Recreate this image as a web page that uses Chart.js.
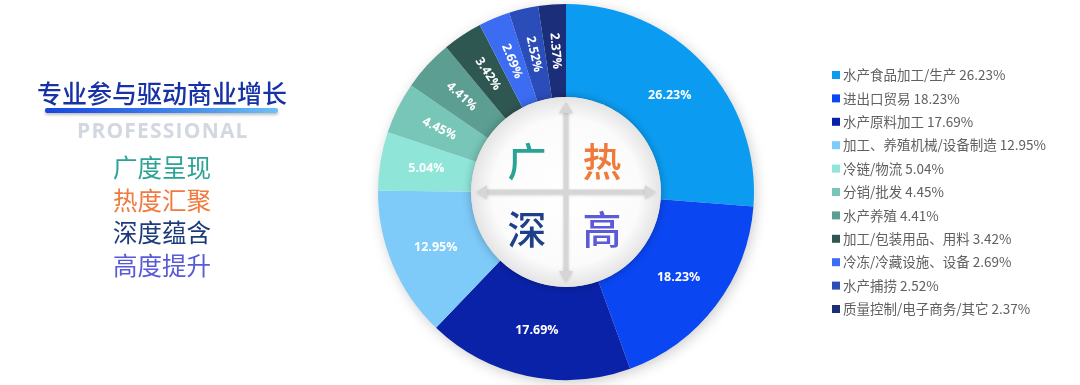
<!DOCTYPE html>
<html>
<head>
<meta charset="utf-8">
<script src="https://cdn.jsdelivr.net/npm/chart.js@4.4.1/dist/chart.umd.min.js"></script>
<style>
  html, body { margin: 0; padding: 0; background: #ffffff; }
  #wrap { position: relative; width: 1080px; height: 385px; overflow: hidden; }
  #c { position: absolute; left: 0; top: 0; }
  .t { position: absolute; white-space: nowrap; font-family: "Noto Sans CJK SC", sans-serif; }
  #title { left: 37px; top: 76px; font-size: 25px; line-height: 32px; color: #1632a6; font-weight: 500; letter-spacing: 0px; }
  #bar { position: absolute; left: 45px; top: 108px; width: 233px; height: 5px; border-radius: 2px;
         background: linear-gradient(90deg, #1745e0 0%, #3a7eea 50%, #6cc2f4 100%);
         box-shadow: 0 2px 3px rgba(0,0,0,0.25); }
  #pro { left: 77px; top: 117px; font-family: "Open Sans", sans-serif; font-weight: 700; font-size: 21px; line-height: 26px; color: #d3d7e0; letter-spacing: 1.2px; }
  .kw { font-size: 24.5px; line-height: 30px; left: 113px; }
</style>
</head>
<body>
<div id="wrap">
  <canvas id="c" width="1080" height="385"></canvas>
  <div class="t" id="title">专业参与驱动商业增长</div>
  <div id="bar"></div>
  <div class="t" id="pro">PROFESSIONAL</div>
  <div class="t kw" style="top:152px;color:#2aa394;">广度呈现</div>
  <div class="t kw" style="top:185px;color:#f07a40;">热度汇聚</div>
  <div class="t kw" style="top:217px;color:#1d3b7c;">深度蕴含</div>
  <div class="t kw" style="top:250px;color:#5a5ad8;">高度提升</div>
</div>
<script>
const categories = ["水产食品加工/生产", "进出口贸易", "水产原料加工", "加工、养殖机械/设备制造", "冷链/物流", "分销/批发", "水产养殖", "加工/包装用品、用料", "冷冻/冷藏设施、设备", "水产捕捞", "质量控制/电子商务/其它"];
const shares = [26.23, 18.23, 17.69, 12.95, 5.04, 4.45, 4.41, 3.42, 2.69, 2.52, 2.37];
const colors = ["#0b9cf2", "#0a46f2", "#0a22a8", "#7ecaf8", "#8fe6d8", "#78c6b8", "#5c9e92", "#2f5752", "#3b6cf2", "#2b4dba", "#1b2e7a"];
const centerChars = ["广", "热", "深", "高"];
const centerColors = ["#2aa394", "#f07a3a", "#1f3f8a", "#5b5bd8"];

const fmt = v => v.toFixed(2) + "%";

const shadowPlugin = {
  id: "ringShadow",
  beforeDatasetsDraw(chart) {
    const arc = chart.getDatasetMeta(0).data[0];
    if (!arc) return;
    const ctx = chart.ctx;
    ctx.save();
    ctx.shadowColor = "rgba(0,0,0,0.22)";
    ctx.shadowBlur = 14;
    ctx.shadowOffsetX = 2;
    ctx.shadowOffsetY = 3;
    ctx.fillStyle = "#ffffff";
    ctx.beginPath();
    ctx.arc(arc.x, arc.y, arc.outerRadius - 1, 0, Math.PI * 2);
    ctx.fill();
    ctx.restore();
  }
};

const labelPlugin = {
  id: "sliceLabels",
  afterDatasetsDraw(chart) {
    const ctx = chart.ctx;
    const meta = chart.getDatasetMeta(0);
    meta.data.forEach((arc, i) => {
      const p = arc.getProps(["x", "y", "startAngle", "endAngle", "innerRadius", "outerRadius"], true);
      const mid = (p.startAngle + p.endAngle) / 2;
      const r = (p.innerRadius + p.outerRadius) / 2;
      const x = p.x + Math.cos(mid) * r;
      const y = p.y + Math.sin(mid) * r;
      ctx.save();
      ctx.translate(x, y);
      if (shares[i] < 5) ctx.rotate(mid + Math.PI);
      ctx.font = "bold 12.5px 'Open Sans', sans-serif";
      ctx.fillStyle = "#ffffff";
      ctx.textAlign = "center";
      ctx.textBaseline = "middle";
      ctx.fillText(fmt(shares[i]), 0, 0);
      ctx.restore();
    });

    // center disc
    const a0 = meta.data[0];
    const cx = a0.x, cy = a0.y, ir = a0.innerRadius;
    ctx.save();
    ctx.shadowColor = "rgba(0,0,0,0.28)";
    ctx.shadowBlur = 10;
    const g = ctx.createRadialGradient(cx, cy, 0, cx, cy, ir);
    g.addColorStop(0, "#ffffff");
    g.addColorStop(0.78, "#fbfbfb");
    g.addColorStop(1, "#e4e4e4");
    ctx.fillStyle = g;
    ctx.beginPath();
    ctx.arc(cx, cy, ir, 0, Math.PI * 2);
    ctx.fill();
    ctx.restore();

    // arrows
    ctx.save();
    ctx.fillStyle = "#d6d6d6";
    ctx.strokeStyle = "#d6d6d6";
    ctx.shadowColor = "rgba(0,0,0,0.15)";
    ctx.shadowBlur = 3;
    ctx.shadowOffsetY = 1;
    const L = ir - 5, hw = 7, hl = 11;
    ctx.lineWidth = 5;
    ctx.beginPath();
    ctx.moveTo(cx, cy - L + hl); ctx.lineTo(cx, cy + L - hl);
    ctx.moveTo(cx - L + hl, cy); ctx.lineTo(cx + L - hl, cy);
    ctx.stroke();
    const head = (tx, ty, dx, dy) => {
      ctx.beginPath();
      ctx.moveTo(tx, ty);
      ctx.lineTo(tx - dx * hl - dy * hw, ty - dy * hl - dx * hw);
      ctx.lineTo(tx - dx * hl + dy * hw, ty - dy * hl + dx * hw);
      ctx.closePath();
      ctx.fill();
    };
    head(cx, cy - L, 0, -1);
    head(cx, cy + L, 0, 1);
    head(cx - L, cy, -1, 0);
    head(cx + L, cy, 1, 0);
    ctx.restore();

    // center characters
    ctx.save();
    ctx.font = "500 39px 'Noto Sans CJK SC', sans-serif";
    ctx.textAlign = "center";
    ctx.textBaseline = "middle";
    const off = [[-39, -31], [36, -31], [-39, 37], [36, 37]];
    centerChars.forEach((ch, k) => {
      ctx.fillStyle = centerColors[k];
      ctx.fillText(ch, cx + off[k][0], cy + off[k][1]);
    });
    ctx.restore();
  }
};

const legendPlugin = {
  id: "sideLegend",
  afterDraw(chart) {
    const ctx = chart.ctx;
    ctx.save();
    ctx.font = "13.5px 'Noto Sans CJK SC', sans-serif";
    ctx.textBaseline = "middle";
    categories.forEach((c, i) => {
      const y = 75 + i * 23.4;
      ctx.fillStyle = colors[i];
      ctx.fillRect(832, y - 4, 8, 8);
      ctx.fillStyle = "#606060";
      ctx.fillText(c + " " + fmt(shares[i]), 843, y);
    });
    ctx.restore();
  }
};

new Chart(document.getElementById("c"), {
  type: "doughnut",
  data: {
    labels: categories,
    datasets: [{
      data: shares,
      backgroundColor: colors,
      borderWidth: 0,
      hoverOffset: 0
    }]
  },
  options: {
    responsive: false,
    animation: false,
    cutout: "50.5%",
    rotation: 0,
    layout: { padding: { left: 376, right: 324, top: 4, bottom: 5 } },
    plugins: {
      legend: { display: false },
      tooltip: { enabled: false }
    }
  },
  plugins: [shadowPlugin, labelPlugin, legendPlugin]
});
</script>
</body>
</html>
